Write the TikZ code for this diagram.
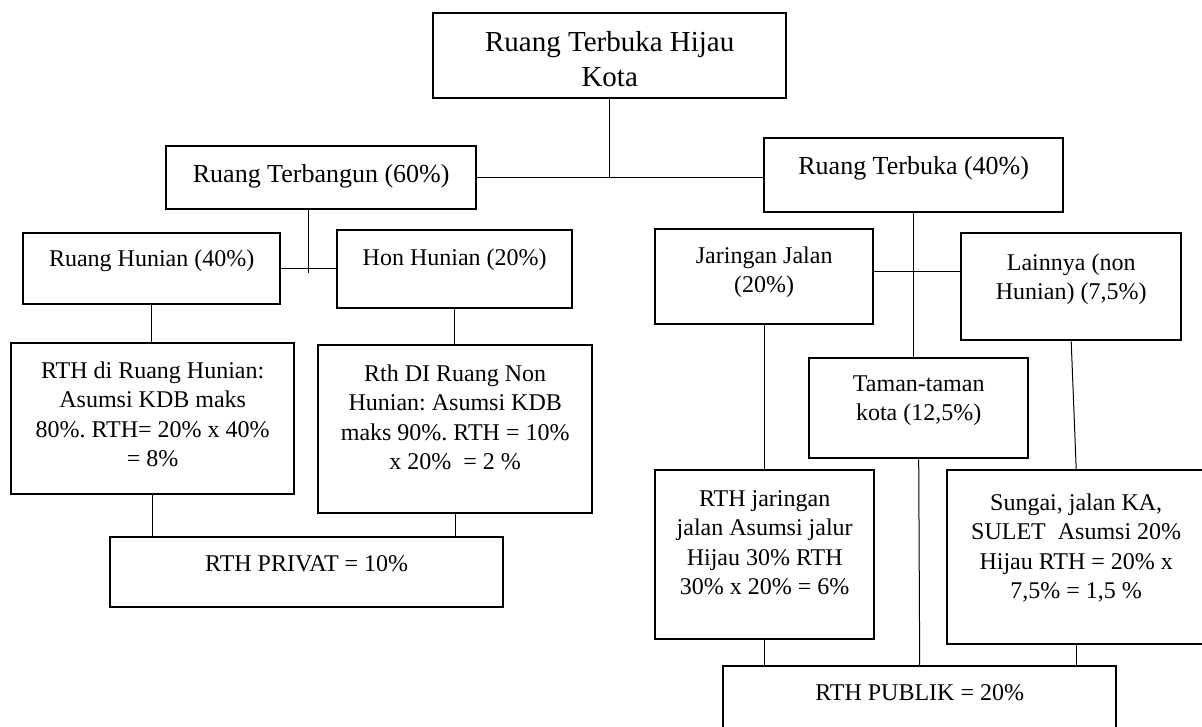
\documentclass[tikz,border=0pt]{standalone}
\usepackage{fontspec}
\setmainfont{Liberation Serif}
\frenchspacing
\tikzset{
  kotak/.style={draw, line width=2.4pt, anchor=north west, align=flush center,
    inner xsep=0pt, inner ysep=0pt, font=\fontsize{24}{29.5}\selectfont},
  garis/.style={line width=1pt},
}
\begin{document}
\begin{tikzpicture}[x=1pt, y=-1pt]
        \useasboundingbox[fill=white] (0,0) rectangle (1202,726);

        % Kotak puncak
        \node[kotak, text width=353pt, text height=38.5pt, text depth=46.5pt,
              font=\fontsize{29}{34.5}\selectfont] (rthk) at (432,12) {Ruang Terbuka Hijau\\Kota};

        % Tingkat dua
        \node[kotak, text width=310pt, text height=36pt, text depth=27pt,
              font=\fontsize{26}{31}\selectfont] (terbangun) at (165,145) {Ruang Terbangun (60\%)};
        \node[kotak, text width=299pt, text height=36pt, text depth=38pt,
              font=\fontsize{26}{31}\selectfont] (terbuka) at (763,137) {Ruang Terbuka (40\%)};

        % Cabang ruang terbangun
        \node[kotak, text width=257pt, text height=33pt, text depth=38pt] (hunian) at (22,232) {Ruang Hunian (40\%)};
        \node[kotak, text width=235pt, text height=35pt, text depth=43pt] (nonhunian) at (336,229) {Hon Hunian (20\%)};
        \node[kotak, text width=283pt, text height=35pt, text depth=116pt] (rthhunian) at (10,342)
            {RTH di Ruang Hunian:\\Asumsi KDB maks\\80\%. RTH= 20\% x 40\%\\= 8\%};
        \node[kotak, text width=274pt, text height=36pt, text depth=132pt] (rthnon) at (317,344)
            {Rth DI Ruang Non\\Hunian: Asumsi KDB\\maks 90\%. RTH = 10\%\\x 20\% \ = 2 \%};
        \node[kotak, text width=393pt, text height=34pt, text depth=36pt] (privat) at (109,536) {RTH PRIVAT = 10\%};

        % Cabang ruang terbuka
        \node[kotak, text width=218pt, text height=34pt, text depth=61pt] (jalan) at (654,228) {Jaringan Jalan\\(20\%)};
        \node[kotak, text width=220pt, text height=37pt, text depth=70pt] (lainnya) at (960,232) {Lainnya (non\\Hunian) (7,5\%)};
        \node[kotak, text width=219pt, text height=33pt, text depth=67pt] (taman) at (808,357) {Taman-taman\\kota (12,5\%)};
        \node[kotak, text width=219pt, text height=36pt, text depth=133pt] (rthjalan) at (654,469)
            {RTH jaringan\\jalan Asumsi jalur\\Hijau 30\% RTH\\30\% x 20\% = 6\%};
        \node[kotak, text width=258pt, text height=40pt, text depth=134pt] (sungai) at (946,469)
            {Sungai, jalan KA,\\SULET \ Asumsi 20\%\\Hijau RTH = 20\% x\\7,5\% = 1,5 \%};
        \node[kotak, text width=393pt, text height=34pt, text depth=46pt] (publik) at (722,665) {RTH PUBLIK = 20\%};

        % Garis penghubung atas
        \draw[garis] (terbangun.east) -- (terbangun.east -| terbuka.west);
        \draw[garis] (rthk.south) -- (rthk.south |- terbangun.east);

        % Garis ruang terbangun
        \coordinate (tb1) at ([xshift=-13pt]terbangun.south);
        \coordinate (tb2) at (tb1 |- hunian.east);
        \draw[garis] (tb1) -- ([yshift=-4pt]tb2);
        \draw[garis] (hunian.east) -- (hunian.east -| nonhunian.west);
        \draw[garis] (hunian.south) -- (hunian.south |- rthhunian.north);
        \draw[garis] (nonhunian.south) -- (nonhunian.south |- rthnon.north);
        \draw[garis] (rthhunian.south) -- (rthhunian.south |- privat.north);
        \draw[garis] (rthnon.south) -- (rthnon.south |- privat.north);

        % Garis ruang terbuka
        \draw[garis] (terbuka.south) -- (terbuka.south |- taman.north);
        \coordinate (jl) at ([yshift=5.5pt]jalan.east);
        \draw[garis] (jl) -- (jl -| lainnya.west);
        \draw[garis] (jalan.south) -- (jalan.south |- rthjalan.north);
        \draw[garis] (lainnya.south) -- (sungai.north);
        \draw[garis] (taman.south) -- (publik.north);
        \draw[garis] (rthjalan.south) -- (rthjalan.south |- publik.north);
        \draw[garis] (sungai.south) -- (sungai.south |- publik.north);
\end{tikzpicture}
\end{document}
